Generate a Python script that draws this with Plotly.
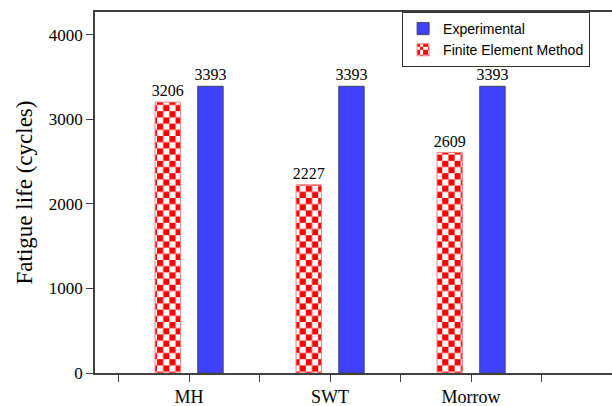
import plotly.graph_objects as go

categories = ["MH", "SWT", "Morrow"]
fem_values = [3206, 2227, 2609]
exp_values = [3393, 3393, 3393]
y_ticks = [0, 1000, 2000, 3000, 4000]

x_pos = list(range(len(categories)))
serif = "Liberation Serif, Times New Roman, serif"

tile = 12.4
half = tile / 2
checker = f"M0,0H{half}V{half}H0ZM{half},{half}H{tile}V{tile}H{half}Z"

fig = go.Figure()
fig.add_trace(go.Bar(
    x=x_pos, y=fem_values, name="Finite Element Method",
    width=0.18, offset=-0.241,
    text=[str(v) for v in fem_values], textposition="outside",
    constraintext="none",
    textfont=dict(family=serif, size=16, color="black"),
    marker=dict(
        color="white",
        line=dict(color="#f08080", width=1),
        pattern=dict(path=checker, size=tile,
                     fgcolor="#ff0000", bgcolor="white", fillmode="replace", solidity=1),
    ),
    cliponaxis=False,
))
fig.add_trace(go.Bar(
    x=x_pos, y=exp_values, name="Experimental",
    width=0.18, offset=0.062,
    text=[str(v) for v in exp_values], textposition="outside",
    constraintext="none",
    textfont=dict(family=serif, size=16, color="black"),
    marker=dict(color="#4040ff", line=dict(color="#404060", width=1)),
    cliponaxis=False,
))

fig.update_layout(
    width=612, height=406,
    margin=dict(l=95, r=0, t=12, b=33),
    paper_bgcolor="white", plot_bgcolor="white",
    showlegend=True,
    legend=dict(
        x=0.594, y=1, xanchor="left", yanchor="top",
        traceorder="reversed",
        bgcolor="white", bordercolor="#333333", borderwidth=1,
        font=dict(family="Liberation Sans, Arial, sans-serif", size=14, color="black"),
        tracegroupgap=0,
    ),
    xaxis=dict(
        range=[-0.667, 3.0],
        tickmode="array", tickvals=x_pos, ticktext=categories,
        ticks="outside", ticklen=7, tickcolor="#404040", tickwidth=1,
        showline=True, linecolor="#404040", linewidth=1.5, mirror=True,
        showgrid=False, zeroline=False,
        tickfont=dict(family=serif, size=18, color="black"),
        minor=dict(tickmode="linear", tick0=0.5, dtick=1, ticks="outside", ticklen=7,
                   tickcolor="#404040", tickwidth=1, showgrid=False),
    ),
    yaxis=dict(
        range=[0, 4272],
        tickmode="array", tickvals=y_ticks,
        ticks="outside", ticklen=7, tickcolor="#404040", tickwidth=1,
        showline=True, linecolor="#404040", linewidth=1.5, mirror=False,
        showgrid=False, zeroline=False,
        tickfont=dict(family=serif, size=17, color="black"),
        title=dict(text="Fatigue life (cycles)", font=dict(family=serif, size=23, color="black"), standoff=10),
    ),
)

fig.write_html("out.html", config={"displayModeBar": False},
               post_script="document.body.style.margin='0';")
